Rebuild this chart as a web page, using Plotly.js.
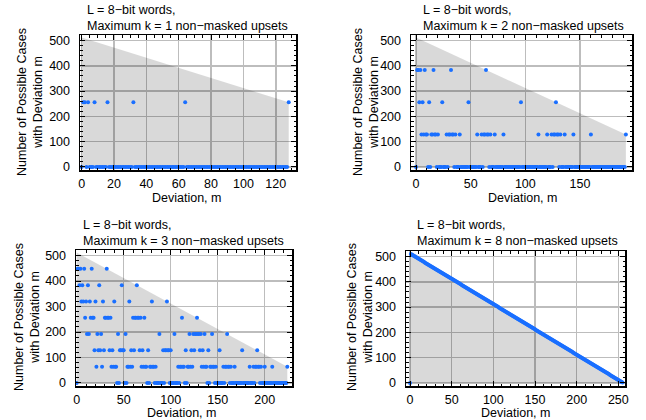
<!DOCTYPE html>
<html>
<head>
<meta charset="utf-8">
<script src="https://cdn.plot.ly/plotly-3.0.1.min.js"></script>
<style>html,body{margin:0;padding:0;background:#fff;}#chart{width:646px;height:420px;}</style>
</head>
<body>
<div id="chart"></div>
<script>
// Deviation m runs 0,1,2,... (index of each array)
const casesK1 = [
0,256,256,0,256,0,0,0,256,0,0,0,0,0,0,0,
256,0,0,0,0,0,0,0,0,0,0,0,0,0,0,0,
256,0,0,0,0,0,0,0,0,0,0,0,0,0,0,0,
0,0,0,0,0,0,0,0,0,0,0,0,0,0,0,0,
256,0,0,0,0,0,0,0,0,0,0,0,0,0,0,0,
0,0,0,0,0,0,0,0,0,0,0,0,0,0,0,0,
0,0,0,0,0,0,0,0,0,0,0,0,0,0,0,0,
0,0,0,0,0,0,0,0,0,0,0,0,0,0,0,0,
256];
const casesK2 = [
0,384,384,256,384,128,256,128,384,128,128,0,256,0,128,128,
384,128,128,0,128,0,0,0,256,0,0,0,128,0,128,128,
384,128,128,0,128,0,0,0,128,0,0,0,0,0,0,0,
256,0,0,0,0,0,0,0,128,0,0,0,128,0,128,128,
384,128,128,0,128,0,0,0,128,0,0,0,0,0,0,0,
128,0,0,0,0,0,0,0,0,0,0,0,0,0,0,0,
256,0,0,0,0,0,0,0,0,0,0,0,0,0,0,0,
128,0,0,0,0,0,0,0,128,0,0,0,128,0,128,128,
256,128,128,0,128,0,0,0,128,0,0,0,0,0,0,0,
128,0,0,0,0,0,0,0,0,0,0,0,0,0,0,0,
128,0,0,0,0,0,0,0,0,0,0,0,0,0,0,0,
0,0,0,0,0,0,0,0,0,0,0,0,0,0,0,0,
128];
const casesK3 = [
0,448,448,384,448,320,384,320,448,256,320,192,384,192,320,256,
448,256,256,128,320,64,192,128,384,128,192,64,320,128,256,256,
448,256,256,128,256,64,128,64,320,64,64,0,192,0,128,128,
384,128,128,0,192,0,64,64,320,64,128,64,256,128,256,256,
384,256,256,128,256,64,128,64,256,64,64,0,128,0,64,64,
320,64,64,0,64,0,0,0,192,0,0,0,128,0,128,128,
320,128,128,0,128,0,0,0,192,0,0,0,64,0,64,64,
256,64,64,0,128,0,64,64,192,64,128,64,192,128,192,192,
256,192,192,128,192,64,128,64,192,64,64,0,128,0,64,64,
192,64,64,0,64,0,0,0,128,0,0,0,64,0,64,64,
192,64,64,0,64,0,0,0,64,0,0,0,0,0,0,0,
128,0,0,0,0,0,0,0,64,0,0,0,64,0,64,64,
128,64,64,0,64,0,0,0,64,0,0,0,0,0,0,0,
64,0,0,0,0,0,0,0,0,0,0,0,0,0,0,0,
64];
const casesK8 = [
0,510,508,506,504,502,500,498,496,494,492,490,488,486,484,482,
480,478,476,474,472,470,468,466,464,462,460,458,456,454,452,450,
448,446,444,442,440,438,436,434,432,430,428,426,424,422,420,418,
416,414,412,410,408,406,404,402,400,398,396,394,392,390,388,386,
384,382,380,378,376,374,372,370,368,366,364,362,360,358,356,354,
352,350,348,346,344,342,340,338,336,334,332,330,328,326,324,322,
320,318,316,314,312,310,308,306,304,302,300,298,296,294,292,290,
288,286,284,282,280,278,276,274,272,270,268,266,264,262,260,258,
256,254,252,250,248,246,244,242,240,238,236,234,232,230,228,226,
224,222,220,218,216,214,212,210,208,206,204,202,200,198,196,194,
192,190,188,186,184,182,180,178,176,174,172,170,168,166,164,162,
160,158,156,154,152,150,148,146,144,142,140,138,136,134,132,130,
128,126,124,122,120,118,116,114,112,110,108,106,104,102,100,98,
96,94,92,90,88,86,84,82,80,78,76,74,72,70,68,66,
64,62,60,58,56,54,52,50,48,46,44,42,40,38,36,34,
32,30,28,26,24,22,20,18,16,14,12,10,8,6,4,2];

// Upper bound region (maximum possible cases) per panel
const boundX1 = [0, 128], boundY1 = [512, 256];
const boundX2 = [0, 192], boundY2 = [512, 128];
const boundX3 = [0, 224], boundY3 = [512, 64];
const boundX4 = [0, 256], boundY4 = [512, 0];

const kValues = [1, 2, 3, 8];
const titleLine1 = "L = 8\u2212bit words,";
const titleLine2 = "Maximum k = {k} non\u2212masked upsets";
const yTitle = "Number of Possible Cases<br>with Deviation m";
const xTitle = "Deviation, m";

const W = 646, H = 420;
const FONT = "Liberation Sans, Arial, Helvetica, sans-serif";
const BLUE = "#1a6fff";
const FILL = "rgba(0,0,0,0.15)";

const panels = [
  {cases: casesK1, bx: boundX1, by: boundY1, px: [80, 296], py: [35, 170], xr: [-1, 132.5], dt: 20, mdt: 5,
   title: [85, 1], ytl: [30, 102], xtl: [186, 198]},
  {cases: casesK2, bx: boundX2, by: boundY2, px: [411, 632], py: [35, 170], xr: [-4.6, 197.6], dt: 50, mdt: 10,
   title: [421, 1], ytl: [366, 102], xtl: [522, 198]},
  {cases: casesK3, bx: boundX3, by: boundY3, px: [76, 292], py: [250, 386], xr: [-0.7, 229], dt: 50, mdt: 10,
   title: [81, 216], ytl: [27, 317], xtl: [182, 413]},
  {cases: casesK8, bx: boundX4, by: boundY4, px: [406, 625], py: [251, 386], xr: [-4.8, 258], dt: 50, mdt: 10,
   title: [415, 216], ytl: [360, 317], xtl: [515, 413]}
];

const data = [];
const layout = {
  width: W, height: H, margin: {l: 0, r: 0, t: 0, b: 0},
  paper_bgcolor: "#fff", plot_bgcolor: "#fff", showlegend: false,
  font: {family: FONT, size: 12, color: "#000"},
  annotations: []
};

panels.forEach((p, i) => {
  const n = i + 1;
  const xa = n === 1 ? "x" : "x" + n, ya = n === 1 ? "y" : "y" + n;
  data.push({x: p.bx, y: p.by, xaxis: xa, yaxis: ya, type: "scatter", mode: "lines",
    line: {width: 0, color: FILL}, fill: "tozeroy", fillcolor: FILL, hoverinfo: "skip"});
  data.push({y: p.cases, x0: 0, dx: 1, xaxis: xa, yaxis: ya, type: "scatter", mode: "markers",
    marker: {size: 4, color: BLUE, line: {width: 0}}});
  const common = {
    showline: true, linecolor: "#000", linewidth: 1.5, mirror: "allticks",
    ticks: "inside", ticklen: 5, tickwidth: 1, tickcolor: "#000",
    showgrid: true, gridcolor: "#bdbdbd", gridwidth: 1.5, zeroline: false,
    tickfont: {family: FONT, size: 12.5, color: "#000"}, fixedrange: true
  };
  layout["xaxis" + (n === 1 ? "" : n)] = Object.assign({}, common, {
    domain: [p.px[0] / W, p.px[1] / W], anchor: ya, range: p.xr, tick0: 0, dtick: p.dt,
    ticklabelstandoff: 1,
    minor: {ticks: "inside", ticklen: 2.5, tickcolor: "#000", dtick: p.mdt, tick0: 0, showgrid: false}
  });
  layout["yaxis" + (n === 1 ? "" : n)] = Object.assign({}, common, {
    domain: [1 - p.py[1] / H, 1 - p.py[0] / H], anchor: xa, range: [-12, 522], tick0: 0, dtick: 100,
    ticklabelstandoff: 6,
    minor: {ticks: "inside", ticklen: 2.5, tickcolor: "#000", dtick: 20, tick0: 0, showgrid: false}
  });
  layout.annotations.push({xref: "paper", yref: "paper", x: p.title[0] / W, y: 1 - p.title[1] / H,
    xanchor: "left", yanchor: "top", align: "left", showarrow: false,
    text: titleLine1 + "<br>" + titleLine2.replace("{k}", kValues[i]),
    font: {family: FONT, size: 12.5, color: "#000"}});
  layout.annotations.push({xref: "paper", yref: "paper", x: p.ytl[0] / W, y: 1 - p.ytl[1] / H,
    xanchor: "center", yanchor: "middle", showarrow: false, textangle: -90,
    text: yTitle, font: {family: FONT, size: 12.5, color: "#000"}});
  layout.annotations.push({xref: "paper", yref: "paper", x: p.xtl[0] / W, y: 1 - p.xtl[1] / H,
    xanchor: "center", yanchor: "middle", showarrow: false,
    text: xTitle, font: {family: FONT, size: 12.5, color: "#000"}});
});

Plotly.newPlot("chart", data, layout, {displayModeBar: false, staticPlot: true});
</script>
</body>
</html>
